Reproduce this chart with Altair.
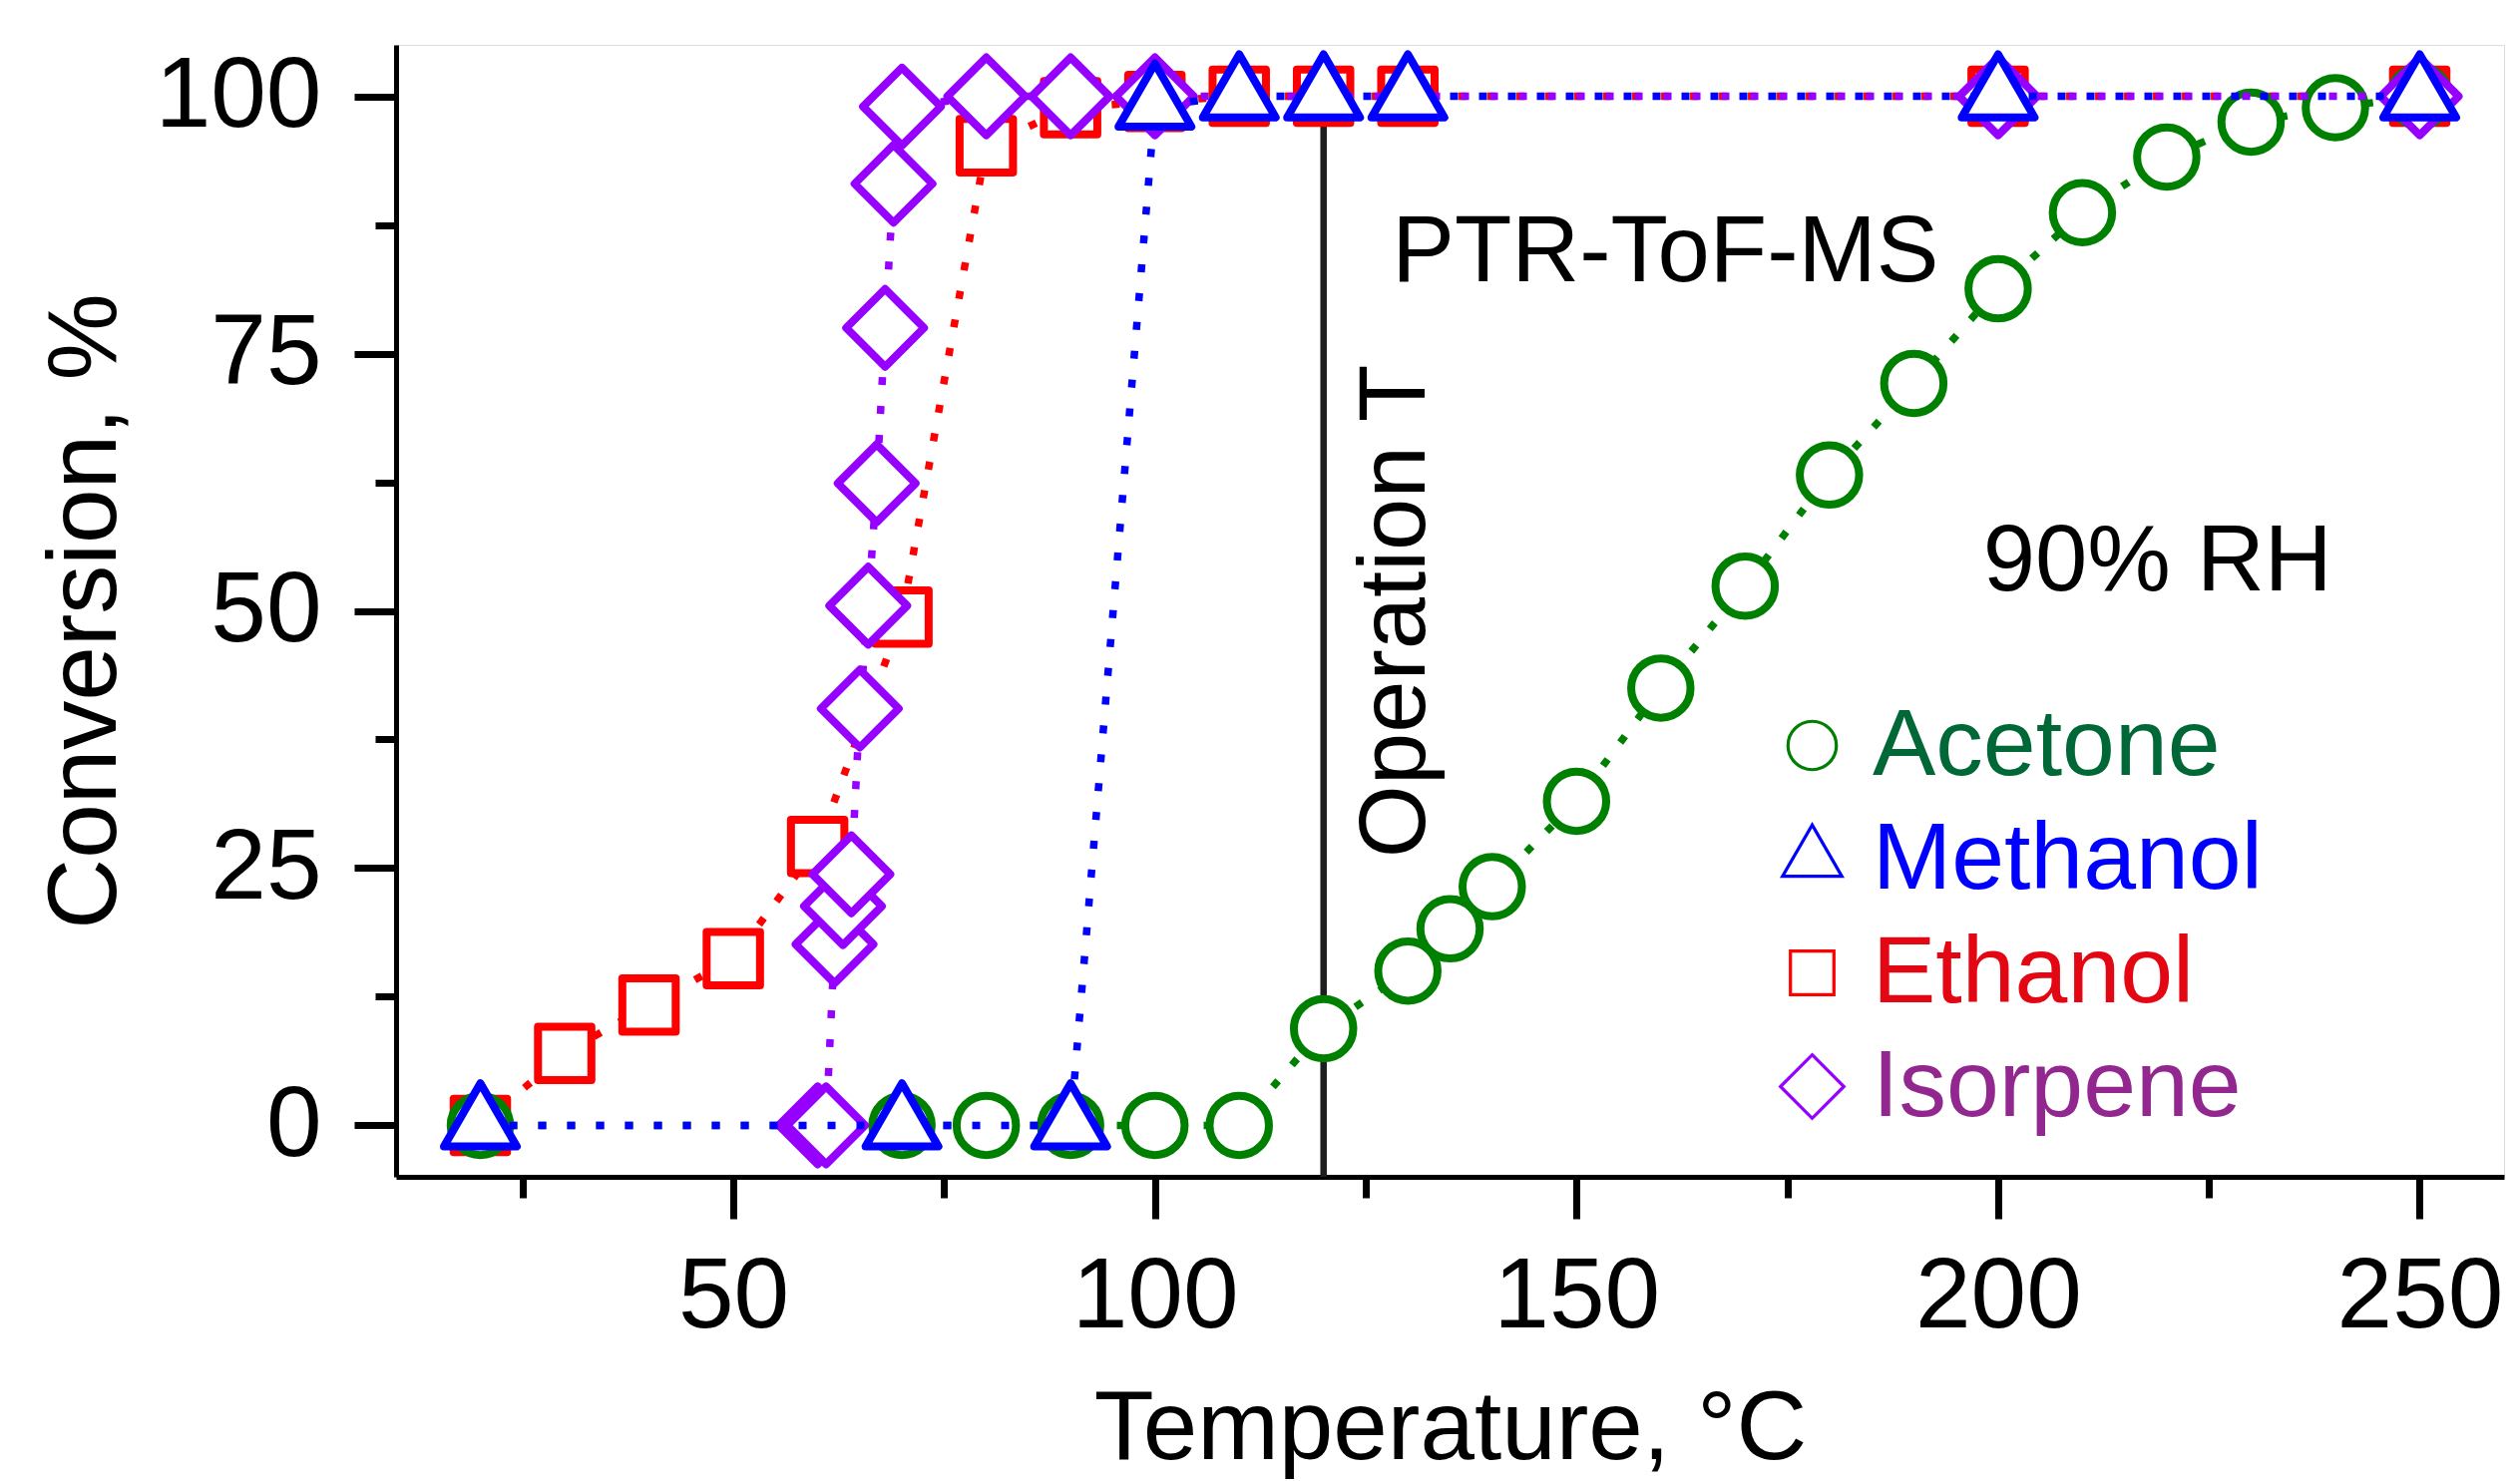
import altair as alt
import pandas as pd

# ---------------- data ----------------
SERIES = ["Acetone", "Methanol", "Ethanol", "Isorpene"]
SERIES_COLORS = ["#008000", "#0000FF", "#FF0000", "#9500FF"]
LABEL_COLORS = ["#006837", "#0000FF", "#E30613", "#92278F"]
DRAW_ORDER = ["Ethanol", "Acetone", "Isorpene", "Methanol"]

ACETONE_T = [20, 70, 80, 90, 100, 110, 120, 130, 135, 140, 150, 160, 170,
             180, 190, 200, 210, 220, 230, 240, 250]
ACETONE_C = [0, 0, 0, 0, 0, 0, 9.4, 15.0, 19.1, 23.2, 31.5, 42.5, 52.4,
             63.2, 72.1, 81.3, 88.7, 94.1, 97.5, 98.9, 100]

METHANOL_T = [20, 70, 90, 100, 110, 120, 130, 200, 250]
METHANOL_C = [0, 0, 0, 99.1, 100, 100, 100, 100, 100]

ETHANOL_T = [20, 30, 40, 50, 60, 70, 80, 90, 100, 110, 120, 130, 200, 250]
ETHANOL_C = [0, 7.0, 11.7, 16.2, 27.1, 49.4, 95.2, 98.9, 99.5, 100, 100,
             100, 100, 100]

ISOPRENE_T = [60, 61, 62, 63, 64, 65, 66, 67, 68, 69, 70, 80, 90, 100, 200, 250]
ISOPRENE_C = [0, 0, 17.6, 21.3, 24.4, 40.5, 50.5, 62.4, 77.5, 91.5, 99.0,
              100, 100, 100, 100, 100]

X_TICKS = [25, 50, 75, 100, 125, 150, 175, 200, 225, 250]
Y_TICKS = [0, 12.5, 25, 37.5, 50, 62.5, 75, 87.5, 100]

OPERATION_T = [120]
OPERATION_LABEL = ["Operation T"]
OPERATION_LABEL_X = [132.0]
OPERATION_LABEL_Y = [26.0]

NOTE_TEXT = ["PTR-ToF-MS", "90% RH"]
NOTE_X = [128.1, 198.2]
NOTE_Y = [82.0, 52.0]

# symbol paths (unit box), sized so that one mark size fits all shapes
SHAPE_PATHS = [
    "M-0.744,0A0.744,0.744 0 1,0 0.744,0A0.744,0.744 0 1,0 -0.744,0Z",
    "M0,-1.054L0.9125,0.527L-0.9125,0.527Z",
    "M-0.669,-0.669L0.669,-0.669L0.669,0.669L-0.669,0.669Z",
    "M0,-0.975L0.975,0L0,0.975L-0.975,0Z",
]

series_data = {
    "Acetone": (ACETONE_T, ACETONE_C),
    "Methanol": (METHANOL_T, METHANOL_C),
    "Ethanol": (ETHANOL_T, ETHANOL_C),
    "Isorpene": (ISOPRENE_T, ISOPRENE_C),
}
rows = []
for name, (ts, cs) in series_data.items():
    for i, (t, c) in enumerate(zip(ts, cs)):
        rows.append({"series": name, "T": t, "C": c, "order": i})
df = pd.DataFrame(rows)

FONT = "Liberation Sans"

x_scale = alt.Scale(domain=[10, 260], nice=False, zero=False)
y_scale = alt.Scale(domain=[-5, 105], nice=False, zero=False)
color_scale = alt.Scale(domain=SERIES, range=SERIES_COLORS)
shape_scale = alt.Scale(domain=SERIES, range=SHAPE_PATHS)

x_axis = alt.Axis(
    values=X_TICKS,
    labelExpr="datum.value % 50 === 0 ? datum.label : ''",
    tickSize={"condition": {"test": "datum.value % 50 === 0", "value": 42}, "value": 21},
    tickWidth=7, tickColor="black", domainColor="black", domainWidth=5,
    labelFontSize=100, labelColor="black", labelPadding=29, labelFont=FONT,
    labelFlush=False, labelOverlap=False, labelBound=False,
    grid=False,
    title="Temperature, °C", titleFontSize=98, titleFontWeight="normal",
    titleFont=FONT, titleColor="black",
    titleX=1056.5, titleY=282, titleBaseline="alphabetic", titleAlign="center",
    titleAnchor="start",
)
y_axis = alt.Axis(
    values=Y_TICKS,
    labelExpr="datum.value % 25 === 0 ? datum.label : ''",
    tickSize={"condition": {"test": "datum.value % 25 === 0", "value": 42}, "value": 21},
    tickWidth=7, tickColor="black", domainColor="black", domainWidth=5,
    labelFontSize=100, labelColor="black", labelPadding=33, labelFont=FONT,
    labelFlush=False, labelOverlap=False, labelBound=False,
    grid=False,
    title="Conversion, %", titleFontSize=98, titleFontWeight="normal",
    titleFont=FONT, titleColor="black", titleAngle=270,
    titleX=-282, titleY=567.5, titleBaseline="alphabetic", titleAlign="center",
    titleAnchor="start",
)

label_color_expr = " : ".join(
    f"datum.label === '{s}' ? '{c}'" for s, c in zip(SERIES[:-1], LABEL_COLORS[:-1])
) + f" : '{LABEL_COLORS[-1]}'"

legend = alt.Legend(
    title=None, orient="none", legendX=1372, legendY=655,
    labelFontSize=95, labelFont=FONT, labelColor={"expr": label_color_expr},
    labelLimit=0, labelOffset=13,
    symbolSize=4250, symbolStrokeWidth=3.2,
    rowPadding=18, padding=0,
)


def X(field):
    return alt.X(field, type="quantitative", scale=x_scale, axis=x_axis)


def Y(field):
    return alt.Y(field, type="quantitative", scale=y_scale, axis=y_axis)


layers = []

rule_df = pd.DataFrame({"T": OPERATION_T, "y0": [-5], "y1": [100]})
layers.append(
    alt.Chart(rule_df).mark_rule(color="#1e1e1e", strokeWidth=6.5).encode(
        x=X("T"), y=Y("y0"), y2="y1:Q"
    )
)

for s in DRAW_ORDER:
    idx = SERIES.index(s)
    sub = alt.Chart(df).transform_filter(alt.datum.series == s)
    layers.append(
        sub.mark_line(
            color=SERIES_COLORS[idx], strokeDash=[8, 21], strokeWidth=7.5,
            strokeCap="butt",
        ).encode(x=X("T"), y=Y("C"), order="order:Q")
    )
    layers.append(
        sub.mark_point(
            filled=False, fill="white", size=6400, strokeWidth=8,
            strokeJoin="round", opacity=1,
        ).encode(
            x=X("T"), y=Y("C"),
            color=alt.Color("series:N", scale=color_scale, legend=legend),
            shape=alt.Shape("series:N", scale=shape_scale, legend=legend),
        )
    )

note_df = pd.DataFrame({"x": NOTE_X, "y": NOTE_Y, "text": NOTE_TEXT})
layers.append(
    alt.Chart(note_df).mark_text(
        align="left", baseline="alphabetic", fontSize=94, font=FONT, color="black"
    ).encode(x=X("x"), y=Y("y"), text="text:N")
)

op_df = pd.DataFrame({"x": OPERATION_LABEL_X, "y": OPERATION_LABEL_Y,
                      "text": OPERATION_LABEL})
layers.append(
    alt.Chart(op_df).mark_text(
        align="left", baseline="alphabetic", angle=270, fontSize=94, font=FONT,
        color="black"
    ).encode(x=X("x"), y=Y("y"), text="text:N")
)

chart = alt.layer(*layers).properties(
    width=2113, height=1135,
    padding={"left": 397, "top": 45, "right": 16, "bottom": 305},
    autosize=alt.AutoSizeParams(type="none"),
    background="white",
).configure_view(stroke="black", strokeWidth=5).configure(font=FONT)

chart.save("out.html", embed_options={"renderer": "svg", "actions": False})
